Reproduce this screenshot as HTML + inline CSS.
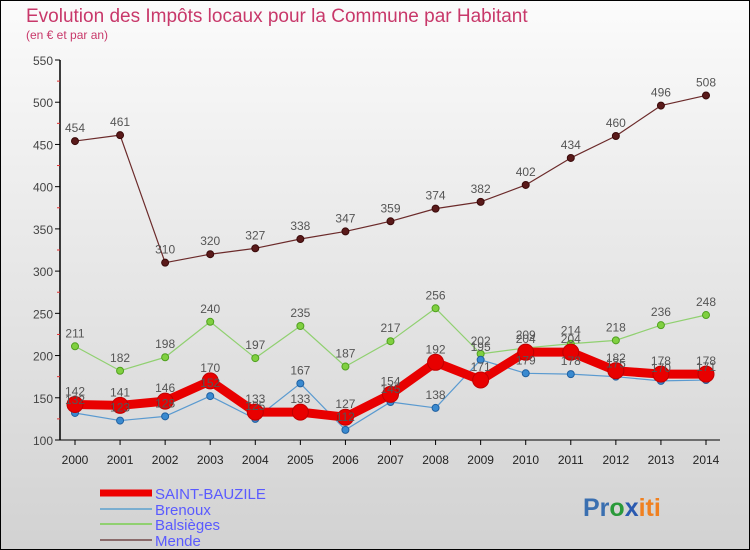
<!DOCTYPE html>
<html><head><meta charset="utf-8"><style>
html,body{margin:0;padding:0;width:750px;height:550px;overflow:hidden}
svg{display:block;font-family:"Liberation Sans",sans-serif}
</style></head><body>
<svg id="chart" width="750" height="550" viewBox="0 0 750 550">
<defs><linearGradient id="bg" x1="0" y1="0" x2="0" y2="1"><stop offset="0" stop-color="#fbfbfb"/><stop offset="1" stop-color="#d2d2d2"/></linearGradient></defs>
<rect x="0.5" y="0.5" width="749" height="549" fill="url(#bg)" stroke="#000"/>
<text x="26" y="22" font-size="19" fill="#c8386a">Evolution des Impôts locaux pour la Commune par Habitant</text>
<text x="26" y="39" font-size="12" fill="#c8386a">(en € et par an)</text>
<g id="axes"></g><g id="series"></g><g id="labels"></g>
<g>
<line x1="100" y1="493" x2="152" y2="493" stroke="#e00" stroke-width="7"/>
<text x="155" y="499" font-size="15" fill="#5a5aff">SAINT-BAUZILE</text>
<line x1="100" y1="509" x2="152" y2="509" stroke="#7aaed0" stroke-width="2"/>
<text x="155" y="515" font-size="15" fill="#5a5aff">Brenoux</text>
<line x1="100" y1="524" x2="152" y2="524" stroke="#90d070" stroke-width="2"/>
<text x="155" y="530" font-size="15" fill="#5a5aff">Balsièges</text>
<line x1="100" y1="540" x2="152" y2="540" stroke="#8a6a6a" stroke-width="2"/>
<text x="155" y="546" font-size="15" fill="#5a5aff">Mende</text>
</g>
<text x="583" y="516" font-size="25" font-weight="bold"><tspan fill="#3a6fb0">Pr</tspan><tspan fill="#2a9a3a">o</tspan><tspan fill="#2a5ab0">x</tspan><tspan fill="#f08020">iti</tspan></text>
</svg>
<script>
const years=[2000,2001,2002,2003,2004,2005,2006,2007,2008,2009,2010,2011,2012,2013,2014];
const yTicks=[100,150,200,250,300,350,400,450,500,550];
const saintBauzile=[142,141,146,170,133,133,127,154,192,171,204,204,182,178,178];
const brenoux=[132,123,128,152,125,167,112,145,138,195,179,178,175,170,171];
const balsieges=[211,182,198,240,197,235,187,217,256,202,209,214,218,236,248];
const mende=[454,461,310,320,327,338,347,359,374,382,402,434,460,496,508];
const NS="http://www.w3.org/2000/svg";
function x(i){return 75+i*(706-75)/(years.length-1);}
function y(v){return 440-(v-100)*(380/450);}
function mk(tag,attrs,parent){const e=document.createElementNS(NS,tag);for(const k in attrs)e.setAttribute(k,attrs[k]);parent.appendChild(e);return e;}
const ax=document.getElementById('axes');
let yl=mk('line',{x1:60,y1:y(550),x2:60,y2:440,stroke:'#000','stroke-width':1.5},ax);


let xl=mk('line',{x1:60,y1:440,x2:720,y2:440,stroke:'#000','stroke-width':1},ax);


yTicks.forEach(t=>{
  mk('line',{x1:55,y1:y(t),x2:60,y2:y(t),stroke:'#000'},ax);
  if(t<550)mk('line',{x1:57,y1:y(t+25),x2:60,y2:y(t+25),stroke:'#e03030'},ax);
  const tx=mk('text',{x:53,y:y(t)+5,'text-anchor':'end','font-size':12,fill:'#444'},ax);
  tx.textContent=t;
  
  
});
years.forEach((yr,i)=>{
  mk('line',{x1:x(i),y1:440,x2:x(i),y2:445,stroke:'#000'},ax);
  const tx=mk('text',{x:x(i),y:464,'text-anchor':'middle','font-size':12,fill:'#222'},ax);
  tx.textContent=yr;
  
  
});
const sg=document.getElementById('series'),lg=document.getElementById('labels');
function draw(vals,name,color,w,r,dot,stroke){
  const g=mk('g',{},sg);
  
  
  mk('polyline',{points:vals.map((v,i)=>x(i)+','+y(v)).join(' '),fill:'none',stroke:color,'stroke-width':w,'stroke-linejoin':'round'},g);
  vals.forEach((v,i)=>{
    const c=mk('circle',{cx:x(i),cy:y(v),r:r,fill:dot,stroke:stroke,'stroke-width':1},g);
    
    
    const t=mk('text',{x:x(i),y:y(v)-9,'text-anchor':'middle','font-size':12,fill:'#555'},lg);
    t.textContent=v;
    
    
  });
}
draw(mende,'mende','#6b2a2a',1.2,3.5,'#5a1a1a','#3a0a0a');
draw(balsieges,'balsieges','#90d070',1.2,3.5,'#80d040','#50a020');
draw(brenoux,'brenoux','#5a9ad0',1.2,3.5,'#3a8ad0','#2060a0');
draw(saintBauzile,'saint-bauzile','#e80000',9,8,'#e80000','#c00000');
</script>
</body></html>
